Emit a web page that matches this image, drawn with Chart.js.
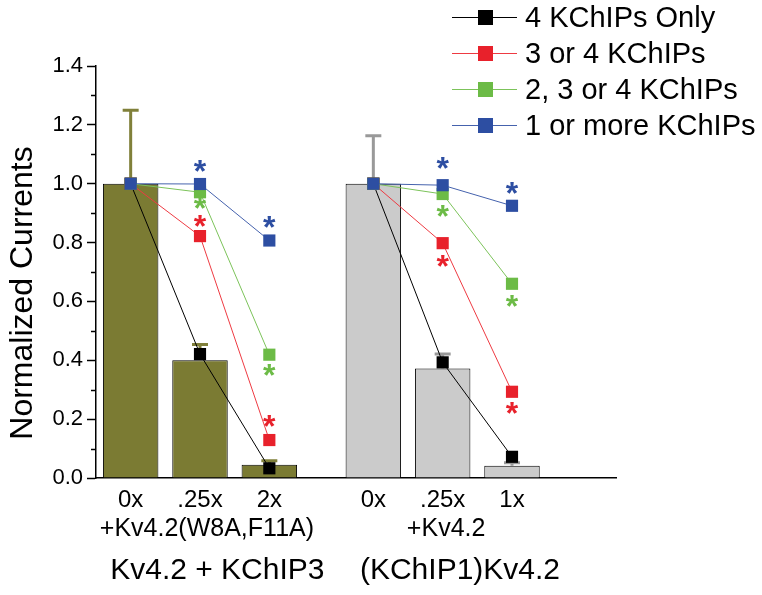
<!DOCTYPE html>
<html lang="en">
<head>
<meta charset="UTF-8">
<title>Normalized Currents</title>
<script src="https://cdn.jsdelivr.net/npm/chart.js@4.4.0/dist/chart.umd.min.js"></script>
<style>
  html, body { margin: 0; padding: 0; background: #fff; }
  canvas { display: block; }
</style>
</head>
<body>
<canvas id="currentChart" width="762" height="595"></canvas>
<script>
  // categories: two groups on a linear x axis, with a gap between them
  const conditions = ['0x', '.25x', '2x', '0x', '.25x', '1x'];
  const xPos = [1, 2, 3, 4.5, 5.5, 6.5];
  const groupGapX = 3.75;
  const subLabels = ['+Kv4.2(W8A,F11A)', '+Kv4.2'];
  const subLabelX = [2.1, 5.55];
  const groupNames = ['Kv4.2 + KChIP3', '(KChIP1)Kv4.2'];
  const groupNameX = [2.25, 5.75];

  // measured currents (bars) and upper error
  const barMeans = [1.0, 0.40, 0.045, 1.0, 0.372, 0.042];
  const barErrors = [0.25, 0.054, 0.014, 0.163, 0.049, 0.010];

  // predicted fractions
  const seriesNames = ['4 KChIPs Only', '3 or 4 KChIPs', '2, 3 or 4 KChIPs', '1 or more KChIPs'];
  const only4 = [1.0, 0.421, 0.033, 1.0, 0.393, 0.072];
  const threeOr4 = [1.0, 0.822, 0.129, 1.0, 0.798, 0.293];
  const twoTo4 = [1.0, 0.971, 0.419, 1.0, 0.965, 0.66];
  const oneOrMore = [1.0, 0.999, 0.807, 1.0, 0.995, 0.925];

  // significance stars (y value of each star, null = none)
  const starsRed = [null, 0.874, 0.192, null, 0.736, 0.237];
  const starsGreen = [null, 0.933, 0.368, null, 0.906, 0.60];
  const starsBlue = [null, 1.06, 0.87, null, 1.07, 0.985];

  const yMinorTicks = [0.1, 0.3, 0.5, 0.7, 0.9, 1.1, 1.3];

  const FONT = "'Liberation Sans', Arial, sans-serif";
  const olive = '#7b7b33';
  const oliveErr = '#80803a';
  const grey = '#cbcbcb';
  const greyErr = '#999999';
  const colors = ['#000000', '#e8212b', '#6cbb46', '#2d4ea2'];
  const lineColors = ['#000000', '#ee3a42', '#7cc35a', '#4562ad'];

  // build line data with a break between the two groups
  function withGap(vals) {
    const pts = [];
    vals.forEach((v, i) => {
      if (i === 3) pts.push({ x: groupGapX, y: null });
      pts.push({ x: xPos[i], y: v });
    });
    return pts;
  }

  const seriesVals = [only4, threeOr4, twoTo4, oneOrMore];
  const lineSets = seriesVals.map((vals, k) => ({
    type: 'line',
    label: seriesNames[k],
    data: withGap(vals),
    borderColor: lineColors[k],
    backgroundColor: colors[k],
    borderWidth: 1,
    pointStyle: 'rect',
    pointRadius: 8.6,
    pointBorderWidth: 0,
    pointBackgroundColor: colors[k],
    spanGaps: false,
    order: 4 - k
  }));

  const extras = {
    id: 'extras',
    afterDatasetDraw(chart, args) {
      if (args.index !== 0) return;
      const ctx = chart.ctx, x = chart.scales.x, y = chart.scales.y;
      ctx.save();
      ctx.lineWidth = 3;
      barMeans.forEach((m, i) => {
        const px = x.getPixelForValue(xPos[i]);
        const base = y.getPixelForValue(m);
        const top = y.getPixelForValue(m + barErrors[i]);
        ctx.strokeStyle = i < 3 ? oliveErr : greyErr;
        ctx.beginPath();
        ctx.moveTo(px, base); ctx.lineTo(px, top);
        ctx.moveTo(px - 8, top); ctx.lineTo(px + 8, top);
        ctx.stroke();
      });
      ctx.restore();
    },
    afterDatasetsDraw(chart) {
      const ctx = chart.ctx, x = chart.scales.x, y = chart.scales.y;
      ctx.save();
      ctx.font = 'bold 32px ' + FONT;
      ctx.textAlign = 'center';
      ctx.textBaseline = 'alphabetic';
      const m = ctx.measureText('*');
      const shift = (m.actualBoundingBoxDescent - m.actualBoundingBoxAscent) / 2;
      [[starsRed, colors[1]], [starsGreen, colors[2]], [starsBlue, colors[3]]].forEach(([arr, c]) => {
        ctx.fillStyle = c;
        arr.forEach((v, i) => {
          if (v === null) return;
          ctx.fillText('*', x.getPixelForValue(xPos[i]), y.getPixelForValue(v) - shift);
        });
      });
      ctx.restore();
    },
    afterDraw(chart) {
      const ctx = chart.ctx, x = chart.scales.x, y = chart.scales.y;
      ctx.save();
      // minor ticks on the y axis
      ctx.strokeStyle = '#000';
      ctx.lineWidth = 1.5;
      yMinorTicks.forEach(v => {
        const py = Math.round(y.getPixelForValue(v)) + 0.5;
        ctx.beginPath();
        ctx.moveTo(chart.chartArea.left - 5, py);
        ctx.lineTo(chart.chartArea.left, py);
        ctx.stroke();
      });
      ctx.fillStyle = '#000';
      ctx.textAlign = 'center';
      ctx.textBaseline = 'middle';
      ctx.font = '25px ' + FONT;
      subLabels.forEach((t, i) => ctx.fillText(t, x.getPixelForValue(subLabelX[i]), 529));
      ctx.font = '30px ' + FONT;
      groupNames.forEach((t, i) => ctx.fillText(t, x.getPixelForValue(groupNameX[i]), 571));
      // y title
      ctx.save();
      ctx.translate(23, 293);
      ctx.rotate(-Math.PI / 2);
      ctx.font = '32px ' + FONT;
      ctx.fillText('Normalized Currents', 0, 0);
      ctx.restore();
      // legend
      ctx.textAlign = 'left';
      ctx.font = '29px ' + FONT;
      seriesNames.forEach((name, k) => {
        const cy = 17 + k * 36;
        ctx.strokeStyle = lineColors[k];
        ctx.lineWidth = 1;
        ctx.beginPath();
        ctx.moveTo(452, cy + 0.5); ctx.lineTo(517, cy + 0.5);
        ctx.stroke();
        ctx.fillStyle = colors[k];
        ctx.fillRect(478, cy - 7, 15, 15);
        ctx.fillStyle = '#000';
        ctx.fillText(name, 525, cy + 2);
      });
      ctx.restore();
    }
  };

  new Chart(document.getElementById('currentChart').getContext('2d'), {
    data: {
      datasets: [{
        type: 'bar',
        label: 'Measured',
        data: barMeans.map((v, i) => ({ x: xPos[i], y: v })),
        backgroundColor: barMeans.map((v, i) => i < 3 ? olive : grey),
        borderColor: '#000',
        borderWidth: 1,
        barPercentage: 0.8,
        categoryPercentage: 1,
        order: 5
      }, ...lineSets]
    },
    options: {
      responsive: false,
      animation: false,
      devicePixelRatio: 1,
      layout: { padding: { top: 66, right: 146, left: 0, bottom: 0 }, autoPadding: false },
      plugins: { legend: { display: false }, tooltip: { enabled: false } },
      scales: {
        x: {
          type: 'linear',
          min: 0.5,
          max: 8,
          offset: false,
          afterBuildTicks: s => { s.ticks = xPos.map(v => ({ value: v })); },
          afterFit: s => { s.height = 117; },
          grid: { display: false, offset: false },
          border: { color: '#000', width: 1.5 },
          ticks: {
            autoSkip: false,
            maxRotation: 0,
            padding: 0,
            color: '#000',
            font: { family: FONT, size: 24 },
            callback: (v, i) => conditions[i]
          }
        },
        y: {
          min: 0,
          max: 1.4,
          afterFit: s => { s.width = 96; },
          grid: { drawOnChartArea: false, drawTicks: true, tickLength: 9, tickWidth: 1.5, tickColor: '#000' },
          border: { color: '#000', width: 1.5 },
          ticks: {
            stepSize: 0.2,
            padding: 4,
            color: '#000',
            font: { family: FONT, size: 22 },
            callback: v => v.toFixed(1)
          }
        }
      }
    },
    plugins: [extras]
  });
</script>
</body>
</html>
